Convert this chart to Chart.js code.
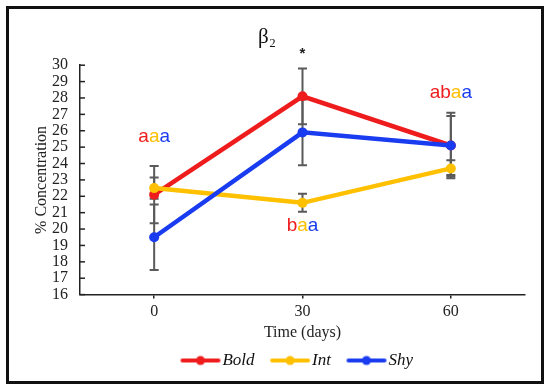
<!DOCTYPE html>
<html>
<head>
<meta charset="utf-8">
<script src="https://cdn.jsdelivr.net/npm/chart.js@4/dist/chart.umd.min.js"></script>
<style>
  html, body { margin: 0; padding: 0; background: #fff; }
  #frame { position: absolute; left: 6px; top: 6px; width: 532px; height: 372px; border: 3px solid #111; }
  #c { display: block; }
</style>
</head>
<body>
<div id="frame"><canvas id="c" width="532" height="372"></canvas></div>
<script>
// ---- data ----
const categories = ['0', '30', '60'];
const seriesNames = ['Bold', 'Int', 'Shy'];
const boldValues = [22.1, 28.1, 25.1];
const intValues  = [22.5, 21.6, 23.7];
const shyValues  = [19.5, 25.9, 25.1];
const boldErr = [1.75, 1.7, 2.0];
const intErr  = [0.65, 0.55, 0.5];
const shyErr  = [2.0, 2.0, 1.8];
const yMin = 16, yMax = 30, yStep = 1;
const chartTitle = 'β₂';
const xTitle = 'Time (days)';
const yTitle = '% Concentration';
// significance letters: text, category index, y anchor (data units), colour index per letter
const sigTexts = ['aaa', 'baa', 'abaa'];
const sigCats = [0, 1, 2];
const sigAnchors = [25.65, 20.2, 28.3];
const sigColorIdx = [[0, 1, 2], [0, 1, 2], [0, 0, 1, 2]];
const starText = '*';
const starCat = 1;
const starAnchor = 30.7;

// ---- styles ----
const colors = ['#ee1c1c', '#ffc000', '#1a3cf0'];
const serif = "'Liberation Serif', 'Times New Roman', serif";
const sans = "'Liberation Sans', Arial, sans-serif";
const axisColor = '#222';

function legendMarker(color) {
  // marker line sits toward the right of the image so the label follows closely
  const cv = document.createElement('canvas');
  cv.width = 56; cv.height = 12;
  const g = cv.getContext('2d');
  g.strokeStyle = color; g.lineWidth = 4; g.lineCap = 'round';
  g.beginPath(); g.moveTo(17, 6); g.lineTo(53, 6); g.stroke();
  g.fillStyle = color; g.beginPath(); g.arc(35, 6, 4.5, 0, Math.PI * 2); g.fill();
  return cv;
}

const allValues = [boldValues, intValues, shyValues];
const allErr = [boldErr, intErr, shyErr];
const drawOrder = [2, 1, 0];

const datasets = seriesNames.map((name, i) => ({
  label: name,
  data: allValues[i],
  borderColor: colors[i],
  backgroundColor: colors[i],
  borderWidth: 4.5,
  pointRadius: 5,
  pointHoverRadius: 5,
  pointBorderWidth: 0,
  tension: 0,
  order: drawOrder[i],
  errs: allErr[i]
}));

const errorBarPlugin = {
  id: 'errorBars',
  afterLayout(chart) {
    // legend in the reference sits centred under the plot area
    chart.legend.left += 26; chart.legend.right += 26;
  },
  beforeDatasetsDraw(chart) {
    const ctx = chart.ctx, x = chart.scales.x, y = chart.scales.y;
    ctx.save();
    ctx.strokeStyle = '#5a5a5a';
    ctx.lineWidth = 2;
    chart.data.datasets.forEach(ds => {
      ds.data.forEach((v, j) => {
        const px = x.getPixelForValue(j);
        const top = y.getPixelForValue(v + ds.errs[j]);
        const bot = y.getPixelForValue(v - ds.errs[j]);
        ctx.beginPath();
        ctx.moveTo(px, top); ctx.lineTo(px, bot);
        ctx.moveTo(px - 4.5, top); ctx.lineTo(px + 4.5, top);
        ctx.moveTo(px - 4.5, bot); ctx.lineTo(px + 4.5, bot);
        ctx.stroke();
      });
    });
    ctx.restore();
  }
};

const annotationPlugin = {
  id: 'annot',
  afterDraw(chart) {
    const ctx = chart.ctx, x = chart.scales.x, y = chart.scales.y;
    ctx.save();
    // inward y ticks
    ctx.strokeStyle = axisColor; ctx.lineWidth = 1.5;
    y.ticks.forEach(t => {
      const py = y.getPixelForValue(t.value);
      ctx.beginPath(); ctx.moveTo(y.right, py); ctx.lineTo(y.right + 5, py); ctx.stroke();
    });
    // significance letters
    ctx.font = '19px ' + sans;
    ctx.textBaseline = 'middle';
    ctx.textAlign = 'left';
    sigTexts.forEach((txt, k) => {
      const cx = x.getPixelForValue(sigCats[k]);
      const cy = y.getPixelForValue(sigAnchors[k]);
      const w = ctx.measureText(txt).width;
      let px = cx - w / 2;
      for (let i = 0; i < txt.length; i++) {
        ctx.fillStyle = colors[sigColorIdx[k][i]];
        ctx.fillText(txt[i], px, cy);
        px += ctx.measureText(txt[i]).width;
      }
    });
    ctx.font = 'bold 15px ' + sans;
    ctx.fillStyle = '#222';
    ctx.textAlign = 'center';
    ctx.fillText(starText, x.getPixelForValue(starCat), y.getPixelForValue(starAnchor));
    ctx.restore();
  }
};

new Chart(document.getElementById('c'), {
  type: 'line',
  data: { labels: categories, datasets },
  plugins: [errorBarPlugin, annotationPlugin],
  options: {
    responsive: false,
    animation: false,
    events: [],
    layout: { padding: { left: 0, right: 16, top: 0, bottom: 2 } },
    plugins: {
      tooltip: { enabled: false },
      title: {
        display: true,
        text: chartTitle,
        color: '#111',
        font: { family: serif, size: 21, weight: 'normal' },
        padding: { top: 16, bottom: 15 }
      },
      legend: {
        position: 'bottom',
        labels: {
          usePointStyle: true,
          pointStyleWidth: 41,
          padding: 8,
          color: '#111',
          font: { family: serif, size: 17, style: 'italic' },
          generateLabels(chart) {
            return chart.data.datasets.map((ds, i) => ({
              text: ds.label,
              fillStyle: colors[i],
              strokeStyle: colors[i],
              pointStyle: legendMarker(colors[i]),
              lineWidth: 0,
              datasetIndex: i,
              fontColor: '#111'
            }));
          }
        }
      }
    },
    scales: {
      x: {
        type: 'category',
        offset: true,
        grid: { display: true, drawOnChartArea: false, offset: false, tickLength: 4, color: axisColor, lineWidth: 1.5 },
        border: { display: true, color: axisColor, width: 1.5 },
        ticks: { color: '#222', padding: 4, font: { family: serif, size: 16 } },
        title: { display: true, text: xTitle, color: '#222', font: { family: serif, size: 16 }, padding: { top: -3, bottom: 2 } }
      },
      y: {
        min: yMin, max: yMax,
        afterFit(s) { s.width = 71; },
        grid: { display: false, drawTicks: false },
        border: { display: true, color: axisColor, width: 1.5 },
        ticks: { stepSize: yStep, autoSkip: false, color: '#222', padding: 12, font: { family: serif, size: 16 } },
        title: { display: true, text: yTitle, color: '#222', font: { family: serif, size: 16 }, padding: { top: 23, bottom: 0 } }
      }
    }
  }
});
</script>
</body>
</html>
